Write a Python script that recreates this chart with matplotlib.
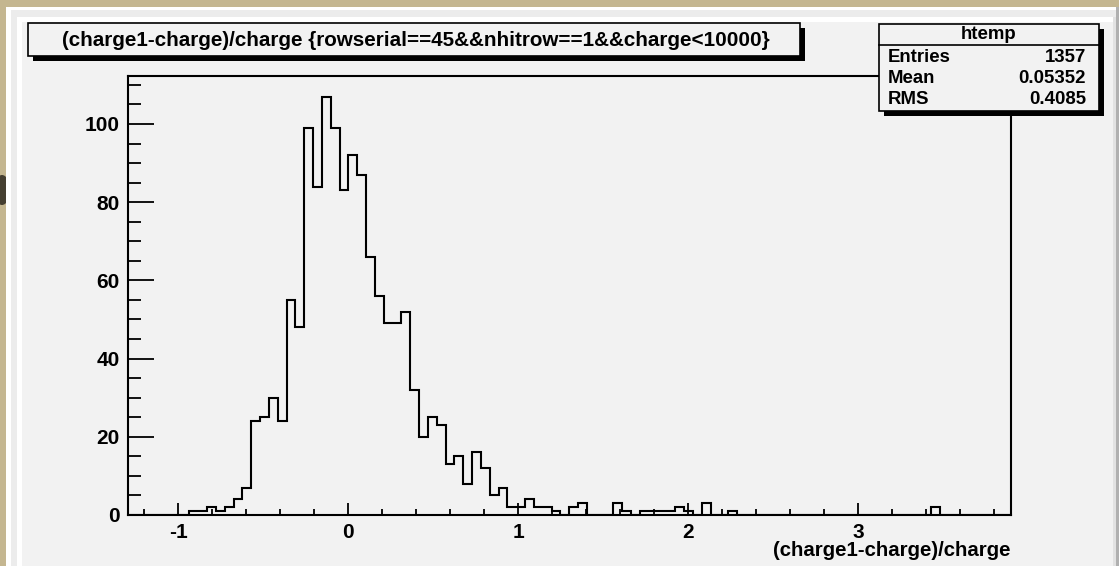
import numpy as np
import matplotlib
matplotlib.use("Agg")
import matplotlib.pyplot as plt
from matplotlib.patches import Rectangle, Ellipse
from matplotlib.ticker import MultipleLocator

# ---- histogram content -------------------------------------------------
hist_name = "htemp"
title_text = "(charge1-charge)/charge {rowserial==45&&nhitrow==1&&charge<10000}"
x_title = "(charge1-charge)/charge"
x_low, x_high, n_bins = -1.3, 3.9, 100

counts = [
    0, 0, 0, 0, 0, 0, 0, 1, 1, 2,
    1, 2, 4, 7, 24, 25, 30, 24, 55, 48,
    99, 84, 107, 99, 83, 92, 87, 66, 56, 49,
    49, 52, 32, 20, 25, 23, 13, 15, 8, 16,
    12, 5, 7, 2, 2, 4, 2, 2, 1, 0,
    2, 3, 0, 0, 0, 3, 1, 0, 1, 1,
    1, 1, 2, 1, 0, 3, 0, 0, 1, 0,
    0, 0, 0, 0, 0, 0, 0, 0, 0, 0,
    0, 0, 0, 0, 0, 0, 0, 0, 0, 0,
    0, 2, 0, 0, 0, 0, 0, 0, 0, 0,
]

x_major = [-1, 0, 1, 2, 3]
x_major_labels = ["-1", "0", "1", "2", "3"]
y_major = [0, 20, 40, 60, 80, 100]
y_major_labels = ["0", "20", "40", "60", "80", "100"]

stat_names = ["Entries", "Mean", "RMS"]
stat_values = ["1357", "0.05352", "0.4085"]

# ---- style ---------------------------------------------------------------
plt.rcParams["font.family"] = ["Liberation Sans", "DejaVu Sans"]
plt.rcParams["font.weight"] = "bold"

W, H = 1119, 566
fig = plt.figure(figsize=(W / 100, H / 100), dpi=100)
fig.patch.set_facecolor("#c4b690")

CANVAS = "#f2f2f2"


def box(axp, x0, y0, x1, y1, **kw):
    r = Rectangle((x0, y0), x1 - x0, y1 - y0, **kw)
    axp.add_patch(r)
    return r


# background layer in pixel coordinates (window and canvas bevel)
bg = fig.add_axes([0, 0, 1, 1], zorder=0)
bg.set_xlim(0, W)
bg.set_ylim(H, 0)
bg.axis("off")
bg.add_patch(Ellipse((2, 190), 16, 30, color="#2f2a21", alpha=0.85, lw=0))
box(bg, 6, 7, W, H, fc="white", lw=0)
box(bg, 11, 10, W, H, fc="#ececec", lw=0)
box(bg, W - 3, 7, W, H, fc="#b0b0b0", lw=0)
box(bg, 17, 17, W - 6, H, fc="white", lw=0)
box(bg, 22, 22, W - 6, H, fc=CANVAS, lw=0)
box(bg, W - 6, 17, W - 3, H, fc="#e2e2e2", lw=0)

# ---- frame with the histogram ------------------------------------------
left, right, top, bottom = 127.5, 1011.0, 75.7, 515.0
ax = fig.add_axes([left / W, 1 - bottom / H, (right - left) / W, (bottom - top) / H],
                  zorder=2)
ax.set_facecolor("none")

edges = np.linspace(x_low, x_high, n_bins + 1)
ax.stairs(counts, edges, color="black", lw=1.5, baseline=0)

ax.set_xlim(x_low, x_high)
ax.set_ylim(0, max(counts) * 1.05)

ax.set_xticks(x_major)
ax.set_xticklabels(x_major_labels)
ax.set_yticks(y_major)
ax.set_yticklabels(y_major_labels)
ax.xaxis.set_minor_locator(MultipleLocator(0.2))
ax.yaxis.set_minor_locator(MultipleLocator(5))

for s in ax.spines.values():
    s.set_linewidth(1.5)
ax.tick_params(axis="x", which="major", direction="in", length=8.6, width=1.3,
               pad=5.5, labelsize=15)
ax.tick_params(axis="x", which="minor", direction="in", length=4.3, width=1.3)
ax.tick_params(axis="y", which="major", direction="in", length=18.7, width=1.3,
               pad=5.5, labelsize=15)
ax.tick_params(axis="y", which="minor", direction="in", length=9.4, width=1.3)

# ---- overlay: title box, stats box, axis title ----------------------------
ov = fig.add_axes([0, 0, 1, 1], zorder=5)
ov.set_xlim(0, W)
ov.set_ylim(H, 0)
ov.axis("off")

ov.text(right - 1, 550, x_title, ha="right", va="center", fontsize=14.7,
        fontweight="bold")

box(ov, 33, 28, 805, 61, fc="black", lw=0)
box(ov, 28, 23, 800, 56, fc=CANVAS, ec="black", lw=1.2)
ov.text(416, 40, title_text, ha="center", va="center", fontsize=14.9,
        fontweight="bold")

sx0, sy0, sx1, sy1 = 879, 24, 1099, 111
box(ov, sx0 + 5, sy0 + 5, sx1 + 5, sy1 + 5, fc="black", lw=0)
box(ov, sx0, sy0, sx1, sy1, fc=CANVAS, ec="black", lw=1.2)
ov.plot([sx0, sx1], [45, 45], color="black", lw=1.2)
ov.text((sx0 + sx1) / 2, 34.5, hist_name, ha="center", va="center",
        fontsize=13.4, fontweight="bold")
for i, (nm, val) in enumerate(zip(stat_names, stat_values)):
    yy = 57 + 21.5 * i
    ov.text(888, yy, nm, ha="left", va="center", fontsize=13.4, fontweight="bold")
    ov.text(1086, yy, val, ha="right", va="center", fontsize=13.4,
            fontweight="bold")

fig.savefig("out.png", dpi=100, facecolor=fig.get_facecolor())
